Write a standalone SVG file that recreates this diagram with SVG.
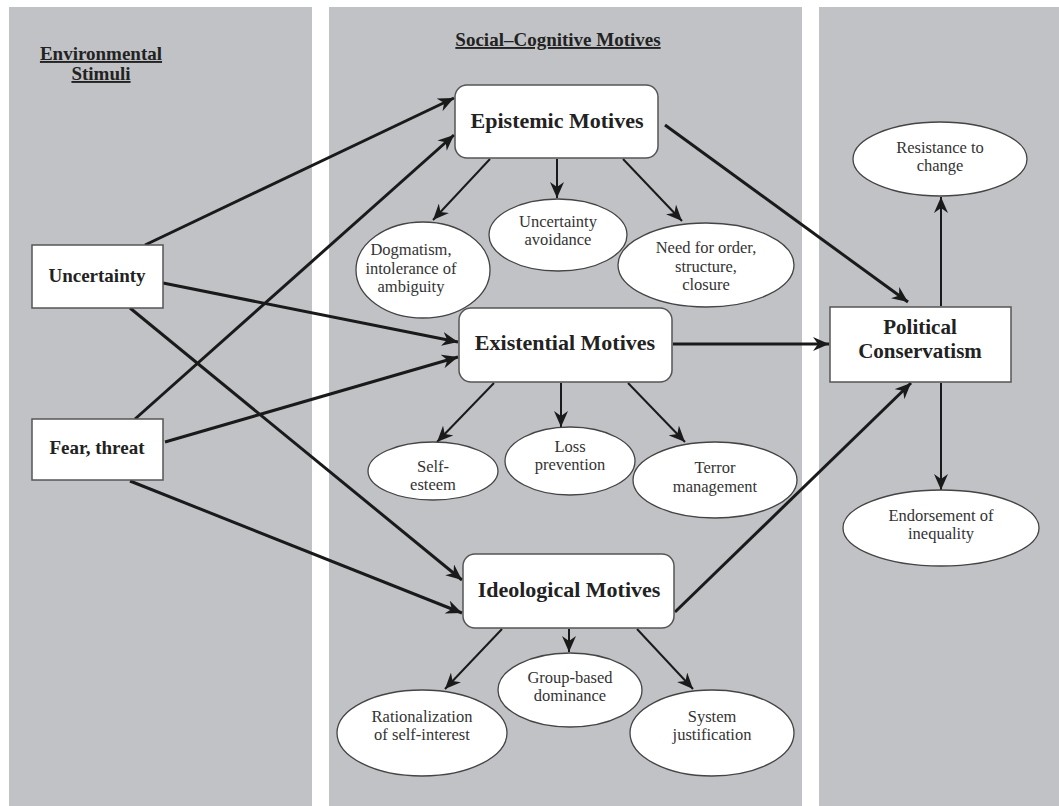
<svg xmlns="http://www.w3.org/2000/svg" width="1059" height="806" viewBox="0 0 1059 806">
<style>
.panel{fill:#c1c2c6}
.box{fill:#fff;stroke:#555;stroke-width:1.5}
.ell{fill:#fff;stroke:#444;stroke-width:1.3}
.hd{font-family:"Liberation Serif",serif;font-weight:bold;fill:#222;text-anchor:middle}
.t{font-family:"Liberation Serif",serif;font-size:16.5px;fill:#333;text-anchor:middle}
.u{text-decoration:underline}
.c1{fill:none;stroke:#1a1a1a;stroke-width:3}
.c2{fill:none;stroke:#1a1a1a;stroke-width:2}
</style>
<defs>
<marker id="ah" markerUnits="userSpaceOnUse" markerWidth="18" markerHeight="14" refX="16" refY="7" orient="auto">
<path d="M0,0 L16,7 L0,14 L5,7 z" fill="#1a1a1a"/>
</marker>
</defs>
<rect width="1059" height="806" fill="#fff"/>
<rect class="panel" x="9" y="7" width="303" height="799"/>
<rect class="panel" x="329" y="7" width="473" height="799"/>
<rect class="panel" x="819" y="7" width="240" height="799"/>

<g id="labels">
<text class="hd u" x="101" y="60" font-size="19">Environmental</text>
<text class="hd u" x="101" y="80" font-size="19">Stimuli</text>
<text class="hd u" x="558" y="46" font-size="19">Social–Cognitive Motives</text>
</g>

<g id="connectors">
<line class="c1" x1="145" y1="245" x2="454" y2="98" marker-end="url(#ah)"/>
<line class="c1" x1="135" y1="419" x2="454" y2="135" marker-end="url(#ah)"/>
<line class="c1" x1="163" y1="283" x2="458" y2="342" marker-end="url(#ah)"/>
<line class="c1" x1="165" y1="442" x2="458" y2="357" marker-end="url(#ah)"/>
<line class="c1" x1="130" y1="308" x2="462" y2="580" marker-end="url(#ah)"/>
<line class="c1" x1="130" y1="481" x2="462" y2="613" marker-end="url(#ah)"/>
<line class="c1" x1="665" y1="125" x2="908" y2="302" marker-end="url(#ah)"/>
<line class="c1" x1="673" y1="344" x2="829" y2="344" marker-end="url(#ah)"/>
<line class="c1" x1="675" y1="612" x2="911" y2="383" marker-end="url(#ah)"/>
<line class="c2" x1="941" y1="306" x2="941" y2="197" marker-end="url(#ah)"/>
<line class="c2" x1="941" y1="383" x2="941" y2="490" marker-end="url(#ah)"/>
<line class="c2" x1="490" y1="159" x2="433" y2="220" marker-end="url(#ah)"/>
<line class="c2" x1="557" y1="159" x2="557" y2="198" marker-end="url(#ah)"/>
<line class="c2" x1="623" y1="159" x2="682" y2="221" marker-end="url(#ah)"/>
<line class="c2" x1="494" y1="383" x2="437" y2="442" marker-end="url(#ah)"/>
<line class="c2" x1="561" y1="383" x2="561" y2="427" marker-end="url(#ah)"/>
<line class="c2" x1="628" y1="383" x2="685" y2="442" marker-end="url(#ah)"/>
<line class="c2" x1="502" y1="629" x2="445" y2="689" marker-end="url(#ah)"/>
<line class="c2" x1="569" y1="629" x2="569" y2="652" marker-end="url(#ah)"/>
<line class="c2" x1="637" y1="629" x2="693" y2="689" marker-end="url(#ah)"/>
</g>

<g id="uncertainty">
<rect class="box" x="32" y="245" width="131" height="63"/>
<text class="hd" x="97" y="282" font-size="19">Uncertainty</text>
</g>
<g id="fear">
<rect class="box" x="32" y="419" width="131" height="61"/>
<text class="hd" x="97" y="454" font-size="19">Fear, threat</text>
</g>
<g id="epistemic">
<rect class="box" x="455" y="85" width="203" height="73" rx="12"/>
<text class="hd" x="557" y="128" font-size="22">Epistemic Motives</text>
</g>
<g id="existential">
<rect class="box" x="459" y="308" width="213" height="74" rx="12"/>
<text class="hd" x="565" y="350" font-size="22">Existential Motives</text>
</g>
<g id="ideological">
<rect class="box" x="463" y="554" width="211" height="74" rx="12"/>
<text class="hd" x="569" y="597" font-size="22">Ideological Motives</text>
</g>
<g id="conservatism">
<rect class="box" x="830" y="307" width="181" height="75"/>
<text class="hd" x="920" y="334" font-size="21">Political</text>
<text class="hd" x="920" y="358" font-size="21">Conservatism</text>
</g>
<g id="resistance">
<ellipse class="ell" cx="940" cy="159" rx="87" ry="37"/>
<text class="t" x="940" y="153">Resistance to</text>
<text class="t" x="940" y="171">change</text>
</g>
<g id="endorsement">
<ellipse class="ell" cx="941" cy="528" rx="98" ry="38"/>
<text class="t" x="941" y="521">Endorsement of</text>
<text class="t" x="941" y="539">inequality</text>
</g>
<g id="dogmatism">
<ellipse class="ell" cx="423" cy="270" rx="67" ry="48"/>
<text class="t" x="411" y="255">Dogmatism,</text>
<text class="t" x="411" y="274">intolerance of</text>
<text class="t" x="411" y="292">ambiguity</text>
</g>
<g id="uncavoid">
<ellipse class="ell" cx="558" cy="235" rx="69" ry="36"/>
<text class="t" x="558" y="227">Uncertainty</text>
<text class="t" x="558" y="245">avoidance</text>
</g>
<g id="order">
<ellipse class="ell" cx="706" cy="265" rx="88" ry="42"/>
<text class="t" x="706" y="253">Need for order,</text>
<text class="t" x="706" y="272">structure,</text>
<text class="t" x="706" y="290">closure</text>
</g>
<g id="selfesteem">
<ellipse class="ell" cx="433" cy="471" rx="65" ry="29"/>
<text class="t" x="433" y="472">Self-</text>
<text class="t" x="433" y="490">esteem</text>
</g>
<g id="loss">
<ellipse class="ell" cx="570" cy="461" rx="65" ry="34"/>
<text class="t" x="570" y="452">Loss</text>
<text class="t" x="570" y="470">prevention</text>
</g>
<g id="terror">
<ellipse class="ell" cx="715" cy="480" rx="82" ry="38"/>
<text class="t" x="715" y="473">Terror</text>
<text class="t" x="715" y="492">management</text>
</g>
<g id="group">
<ellipse class="ell" cx="570" cy="690" rx="72" ry="37"/>
<text class="t" x="570" y="683">Group-based</text>
<text class="t" x="570" y="701">dominance</text>
</g>
<g id="rational">
<ellipse class="ell" cx="422" cy="733" rx="85" ry="43"/>
<text class="t" x="422" y="722">Rationalization</text>
<text class="t" x="422" y="740">of self-interest</text>
</g>
<g id="system">
<ellipse class="ell" cx="712" cy="733" rx="82" ry="43"/>
<text class="t" x="712" y="722">System</text>
<text class="t" x="712" y="740">justification</text>
</g>
</svg>
